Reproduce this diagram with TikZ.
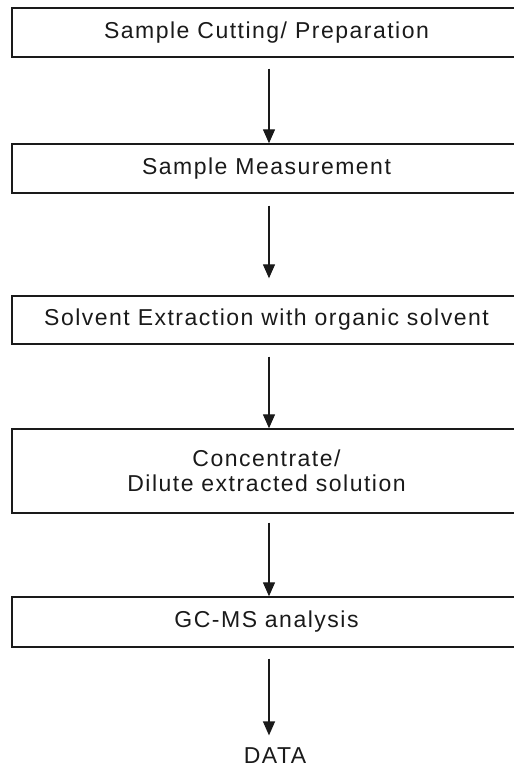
\documentclass[tikz,border=0pt]{standalone}
\usepackage{fontspec}
\setmainfont[LetterSpace=6.5]{Liberation Sans}
\usetikzlibrary{arrows.meta}
\definecolor{ink}{HTML}{1A1A1A}
\begin{document}
\begin{tikzpicture}[x=1pt,y=-1pt,
  stepbox/.style={draw=ink,line width=1.4pt,rectangle,minimum width=509pt,inner sep=0pt,
    align=center,text=ink,font=\fontsize{23}{25}\selectfont},
  arr/.style={draw=ink,line width=1.3pt,-{Triangle[length=14pt,width=12pt]}},
  lbl/.style={inner sep=0pt,text=ink,font=\fontsize{23}{25}\selectfont}]
\useasboundingbox (0,0) rectangle (514,769);
\begin{scope}
\clip (0,0) rectangle (514,769);
\node[stepbox,minimum height=49pt] (b1) at (266.5,32.5) {Sample Cutting/ Preparation};
\node[stepbox,minimum height=49pt] (b2) at (266.5,168.5) {Sample Measurement};
\node[stepbox,minimum height=48pt] (b3) at (266.5,320) {Solvent Extraction with organic solvent};
\node[stepbox,minimum height=84pt] (b4) at (266.5,471) {Concentrate/\\Dilute extracted solution};
\node[stepbox,minimum height=50pt] (b5) at (266.5,622) {GC-MS analysis};
\end{scope}
\node[lbl] (d) at (275,755.5) {DATA};
\draw[arr] ([xshift=2.5pt,yshift=-11pt]b1.south) -- ([xshift=2.5pt]b2.north);
\draw[arr] ([xshift=2.5pt,yshift=-12pt]b2.south) -- ([xshift=2.5pt,yshift=17pt]b3.north);
\draw[arr] ([xshift=2.5pt,yshift=-12pt]b3.south) -- ([xshift=2.5pt]b4.north);
\draw[arr] ([xshift=2.5pt,yshift=-9pt]b4.south) -- ([xshift=2.5pt]b5.north);
\coordinate (dtop) at ([xshift=-6pt,yshift=12pt]d.north);
\draw[arr] ([xshift=2.5pt,yshift=-11pt]b5.south) -- (dtop);
\end{tikzpicture}
\end{document}
